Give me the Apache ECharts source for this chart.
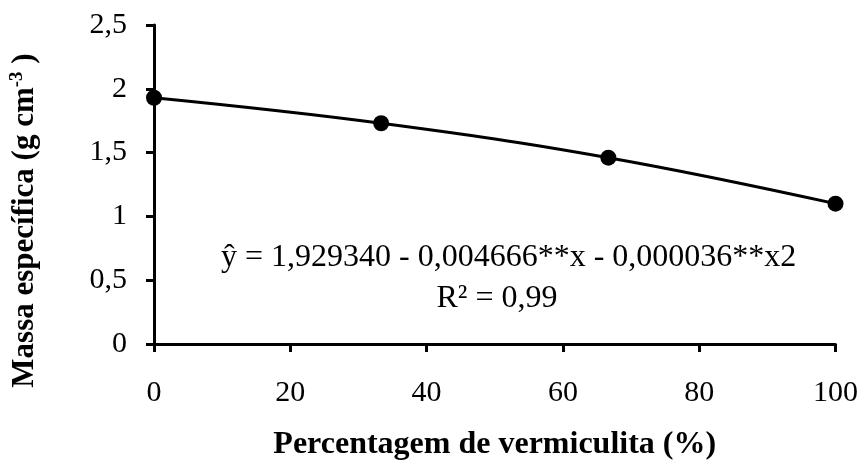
<!DOCTYPE html>
<html><head><meta charset="utf-8">
<script src="https://cdn.jsdelivr.net/npm/echarts@6/dist/echarts.min.js"></script>
<style>html,body{margin:0;padding:0;background:#fff}#c{width:861px;height:466px}</style>
</head><body><div id="c"></div>
<script>
const xValues = [0, 33.33, 66.67, 100];
const yValues = [1.93, 1.73, 1.46, 1.10];
const xTicks = [0, 20, 40, 60, 80, 100];
const yTicks = [0, 0.5, 1, 1.5, 2, 2.5];
const equationText = 'ŷ = 1,929340 - 0,004666**x - 0,000036**x2';
const r2Text = 'R² = 0,99';

const font = 'Liberation Serif';
const chart = echarts.init(document.getElementById('c'));
chart.setOption({
  animation: false,
  grid: {left: 152, right: 24, top: 25, bottom: 121},
  xAxis: {
    type: 'value', min: 0, max: 100, interval: 20,
    axisLine: {lineStyle: {color: '#000', width: 3}},
    axisTick: {show: true, length: 8, lineStyle: {color: '#000', width: 3}},
    axisLabel: {color: '#000', fontFamily: font, fontSize: 30, margin: 34,
      formatter: v => String(v)},
    splitLine: {show: false},
    name: 'Percentagem de vermiculita (%)',
    nameLocation: 'middle', nameGap: 85,
    nameTextStyle: {color: '#000', fontFamily: font, fontSize: 32, fontWeight: 'bold'}
  },
  yAxis: {
    type: 'value', min: 0, max: 2.5, interval: 0.5,
    axisLine: {show: true, lineStyle: {color: '#000', width: 3}},
    axisTick: {show: true, length: 8, lineStyle: {color: '#000', width: 3}},
    axisLabel: {color: '#000', fontFamily: font, fontSize: 30, margin: 27,
      formatter: v => String(v).replace('.', ',')},
    splitLine: {show: false},
    name: '{b|Massa específica (g cm}{s|-3}{b| )}',
    nameLocation: 'middle', nameGap: 113, nameRotate: 90,
    nameTextStyle: {
      padding: [0, 72, 0, 0],
      rich: {
        b: {color: '#000', fontFamily: font, fontSize: 31, fontWeight: 'bold'},
        s: {color: '#000', fontFamily: font, fontSize: 19, fontWeight: 'bold', verticalAlign: 'top', padding: [0, 0, 14, 0]}
      }
    }
  },
  series: [{
    type: 'line',
    data: xValues.map((x, i) => [x, yValues[i]]),
    smooth: 0.4,
    symbol: 'circle', symbolSize: 16,
    lineStyle: {color: '#000', width: 3},
    itemStyle: {color: '#000'}
  }],
  graphic: [
    {type: 'text', x: 221, y: 258, style: {text: equationText, fill: '#000', font: '32px "Liberation Serif"', textVerticalAlign: 'middle'}},
    {type: 'text', x: 497, y: 299, style: {text: r2Text, fill: '#000', font: '32px "Liberation Serif"', textAlign: 'center', textVerticalAlign: 'middle'}}
  ]
});
</script></body></html>
